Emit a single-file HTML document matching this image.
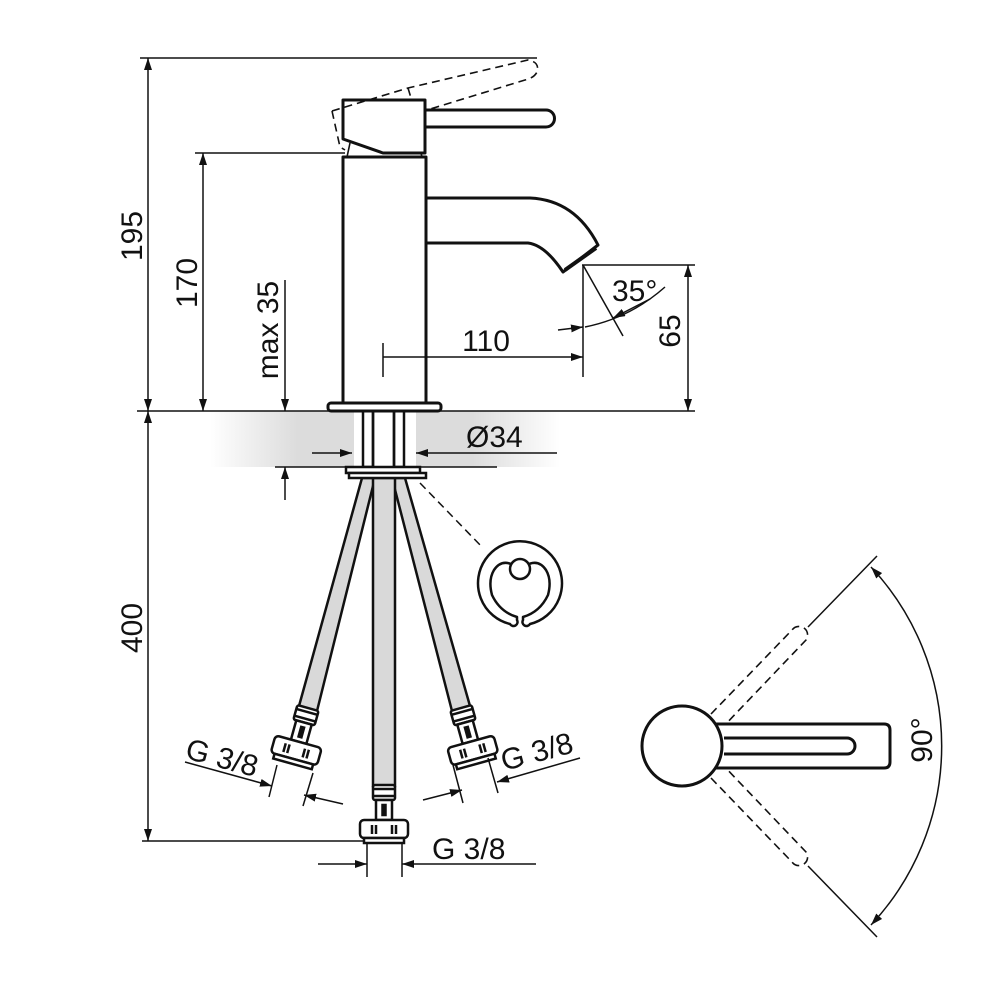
<!DOCTYPE html>
<html><head><meta charset="utf-8"><style>
html,body{margin:0;padding:0;background:#fff;width:1000px;height:1000px;overflow:hidden}
svg{display:block}
text{font-family:"Liberation Sans",sans-serif;fill:#111}
</style></head><body>
<svg width="1000" height="1000" viewBox="0 0 1000 1000" xmlns="http://www.w3.org/2000/svg">
<defs>
<marker id="a" viewBox="0 0 12 8" refX="12" refY="4" markerWidth="12" markerHeight="8" markerUnits="userSpaceOnUse" orient="auto-start-reverse"><path d="M0,0 L12,4 L0,8z" fill="#111"/></marker>
<linearGradient id="g" x1="0" x2="1" y1="0" y2="0">
<stop offset="0" stop-color="#fff"/><stop offset="0.25" stop-color="#dcdcdc"/><stop offset="0.75" stop-color="#dcdcdc"/><stop offset="1" stop-color="#fff"/></linearGradient>
<g id="fit" stroke="#111" stroke-width="2.5" fill="#fff">
<rect x="-11" y="0" width="22" height="15" rx="2"/>
<line x1="-11" y1="4" x2="11" y2="4"/><line x1="-11" y1="11" x2="11" y2="11"/>
<rect x="-8" y="15" width="16" height="20"/>
<rect x="-1.5" y="20" width="3" height="10" fill="#111"/>
<rect x="-24" y="35" width="48" height="18" rx="4"/>
<line x1="-12" y1="40" x2="-12" y2="49"/><line x1="-8" y1="40" x2="-8" y2="49"/>
<line x1="8" y1="40" x2="8" y2="49"/><line x1="12" y1="40" x2="12" y2="49"/>
<rect x="-20" y="53" width="40" height="5"/>
</g>
</defs>

<!-- counter band -->
<rect x="210" y="411" width="350" height="56" fill="url(#g)"/>
<rect x="354" y="411" width="62" height="56" fill="#fff"/>

<!-- faucet -->
<g stroke="#111" stroke-width="3" fill="#fff" stroke-linejoin="round">
<path d="M426,198 L530,198 Q575,200 598,245 L563,272 Q545,245 528,243 L426,243"/>
<line x1="565" y1="270" x2="596" y2="248" stroke-width="4"/>
<rect x="343" y="157" width="83" height="246"/>
<rect x="328" y="403" width="113" height="8" rx="3"/>
<path d="M426,110 L546,110 A8.5,8.5 0 0 1 546,127 L426,127"/>
<path d="M343,139 L343,100 L425,100 L425,153 L383,153 Z"/>
</g>
<g stroke="#111" stroke-width="1.6" fill="none">
<line x1="350" y1="143" x2="347" y2="157"/>
<line x1="421" y1="153" x2="422" y2="157"/>
</g>
<g stroke="#111" stroke-width="1.6" fill="none" stroke-dasharray="8,5">
<path d="M332,111 L408,88 L528,60 Q540,62 537,72 Q534,78 525,80 L427,110"/>
<path d="M332,111 L340,147 L345,150"/>
<line x1="408" y1="88" x2="411" y2="98"/>
</g>

<g stroke="#111" stroke-width="1.5" fill="none">
<line x1="140" y1="58" x2="537" y2="58"/>
<line x1="195" y1="153" x2="345" y2="153"/>
<line x1="137" y1="411" x2="695" y2="411"/>
<line x1="275" y1="467" x2="497" y2="467"/>
<line x1="142" y1="841" x2="367" y2="841"/>
<line x1="582" y1="265" x2="695" y2="265"/>
<line x1="583" y1="265" x2="583" y2="377"/>
<line x1="383" y1="343" x2="383" y2="377"/>
<line x1="148" y1="58" x2="148" y2="411" marker-start="url(#a)" marker-end="url(#a)"/>
<line x1="148" y1="411" x2="148" y2="841" marker-start="url(#a)" marker-end="url(#a)"/>
<line x1="203" y1="153" x2="203" y2="411" marker-start="url(#a)" marker-end="url(#a)"/>
<line x1="285" y1="280" x2="285" y2="411" marker-end="url(#a)"/>
<line x1="285" y1="500" x2="285" y2="467" marker-end="url(#a)"/>
<line x1="688" y1="265" x2="688" y2="411" marker-start="url(#a)" marker-end="url(#a)"/>
<line x1="383" y1="357" x2="583" y2="357" marker-end="url(#a)"/>
<line x1="312" y1="453" x2="352" y2="453" marker-end="url(#a)"/>
<line x1="557" y1="453" x2="416" y2="453" marker-end="url(#a)"/>
<line x1="583" y1="265" x2="623" y2="336"/>
<line x1="558" y1="330" x2="583" y2="327" marker-end="url(#a)"/>
<path d="M585,327 Q630,318 665,287"/>
<path d="M650,299 L613,318" marker-end="url(#a)"/>
</g>

<!-- hoses -->
<g stroke="#111" stroke-width="2.5" fill="#d9d9d9">
<polygon points="362,478 375,478 317,711 299,706"/>
<polygon points="392,478 405,478 470,706 452,711"/>
<rect x="373" y="478" width="22" height="308"/>
<rect x="363" y="411" width="10" height="56" fill="none"/>
<rect x="394" y="411" width="10" height="56" fill="none"/>
<line x1="373" y1="411" x2="373" y2="478"/><line x1="394" y1="411" x2="394" y2="478"/>
<rect x="346" y="467" width="74" height="6" fill="#fff"/>
<rect x="349" y="473" width="77" height="5" fill="#fff"/>
</g>
<use href="#fit" transform="translate(384,785)"/>
<use href="#fit" transform="translate(308,708) rotate(15.5)"/>
<use href="#fit" transform="translate(461,708) rotate(-15.5)"/>

<!-- clip -->
<line x1="420" y1="483" x2="483" y2="548" stroke="#111" stroke-width="1.5" stroke-dasharray="8,5"/>
<g stroke="#111" stroke-width="2.5" fill="none" stroke-linejoin="round">
<path d="M510,624 A42,42 0 1 1 530,624 A4,4 0 0 1 523,620 L523,617 Q540,612 548,595 Q552,580 546,570 Q538,558 525,566 Q520,580 515,566 Q502,558 494,570 Q488,580 492,595 Q500,612 517,617 L517,620 A4,4 0 0 1 510,624 Z"/>
<circle cx="520" cy="569" r="10" fill="#fff"/>
</g>

<!-- G 3/8 dims -->
<g stroke="#111" stroke-width="1.5" fill="none">
<line x1="277" y1="765" x2="269" y2="797"/><line x1="313" y1="773" x2="303" y2="806"/>
<line x1="185" y1="762" x2="272" y2="786" marker-end="url(#a)"/>
<line x1="343" y1="804" x2="304" y2="795" marker-end="url(#a)"/>
<line x1="453" y1="765" x2="463" y2="803"/><line x1="488" y1="758" x2="498" y2="793"/>
<line x1="423" y1="800" x2="462" y2="790" marker-end="url(#a)"/>
<line x1="580" y1="758" x2="497" y2="782" marker-end="url(#a)"/>
<line x1="367" y1="843" x2="367" y2="877"/><line x1="402" y1="843" x2="402" y2="877"/>
<line x1="318" y1="864" x2="367" y2="864" marker-end="url(#a)"/>
<line x1="536" y1="864" x2="402" y2="864" marker-end="url(#a)"/>
</g>

<!-- top view -->
<g stroke="#111" stroke-width="1.5" fill="none">
<line x1="808" y1="627" x2="877" y2="556"/>
<line x1="808" y1="866" x2="877" y2="937"/>
<path d="M871,567 A262,262 0 0 1 871,925" marker-start="url(#a)" marker-end="url(#a)"/>
</g>
<g stroke="#111" stroke-width="1.6" fill="none" stroke-dasharray="8,5">
<path d="M711,714 L792,630 A7,7 0 0 1 806,640 L722,728"/>
<path d="M711,778 L792,862 A7,7 0 0 0 806,852 L722,764"/>
</g>
<g stroke="#111" stroke-width="3" fill="#fff">
<path d="M712,724 L884,724 Q890,724 890,730 L890,762 Q890,768 884,768 L712,768"/>
<path d="M724,738 L847,738 A8,8 0 0 1 847,754 L724,754"/>
<circle cx="682" cy="746" r="40"/>
</g>

<!-- labels -->
<g font-size="30">
<text transform="translate(142,236) rotate(-90)" text-anchor="middle">195</text>
<text transform="translate(142,628) rotate(-90)" text-anchor="middle">400</text>
<text transform="translate(197,283) rotate(-90)" text-anchor="middle">170</text>
<text transform="translate(278,330) rotate(-90)" text-anchor="middle">max 35</text>
<text transform="translate(680,331) rotate(-90)" text-anchor="middle">65</text>
<text x="486" y="351" text-anchor="middle">110</text>
<text x="612" y="301">35°</text>
<text x="466" y="447">Ø34</text>
<text x="432" y="859">G 3/8</text>
<text transform="translate(184,758) rotate(15)">G 3/8</text>
<text transform="translate(504,771) rotate(-15)">G 3/8</text>
<text transform="translate(932,740) rotate(-90)" text-anchor="middle">90°</text>
</g>
</svg>
</body></html>
